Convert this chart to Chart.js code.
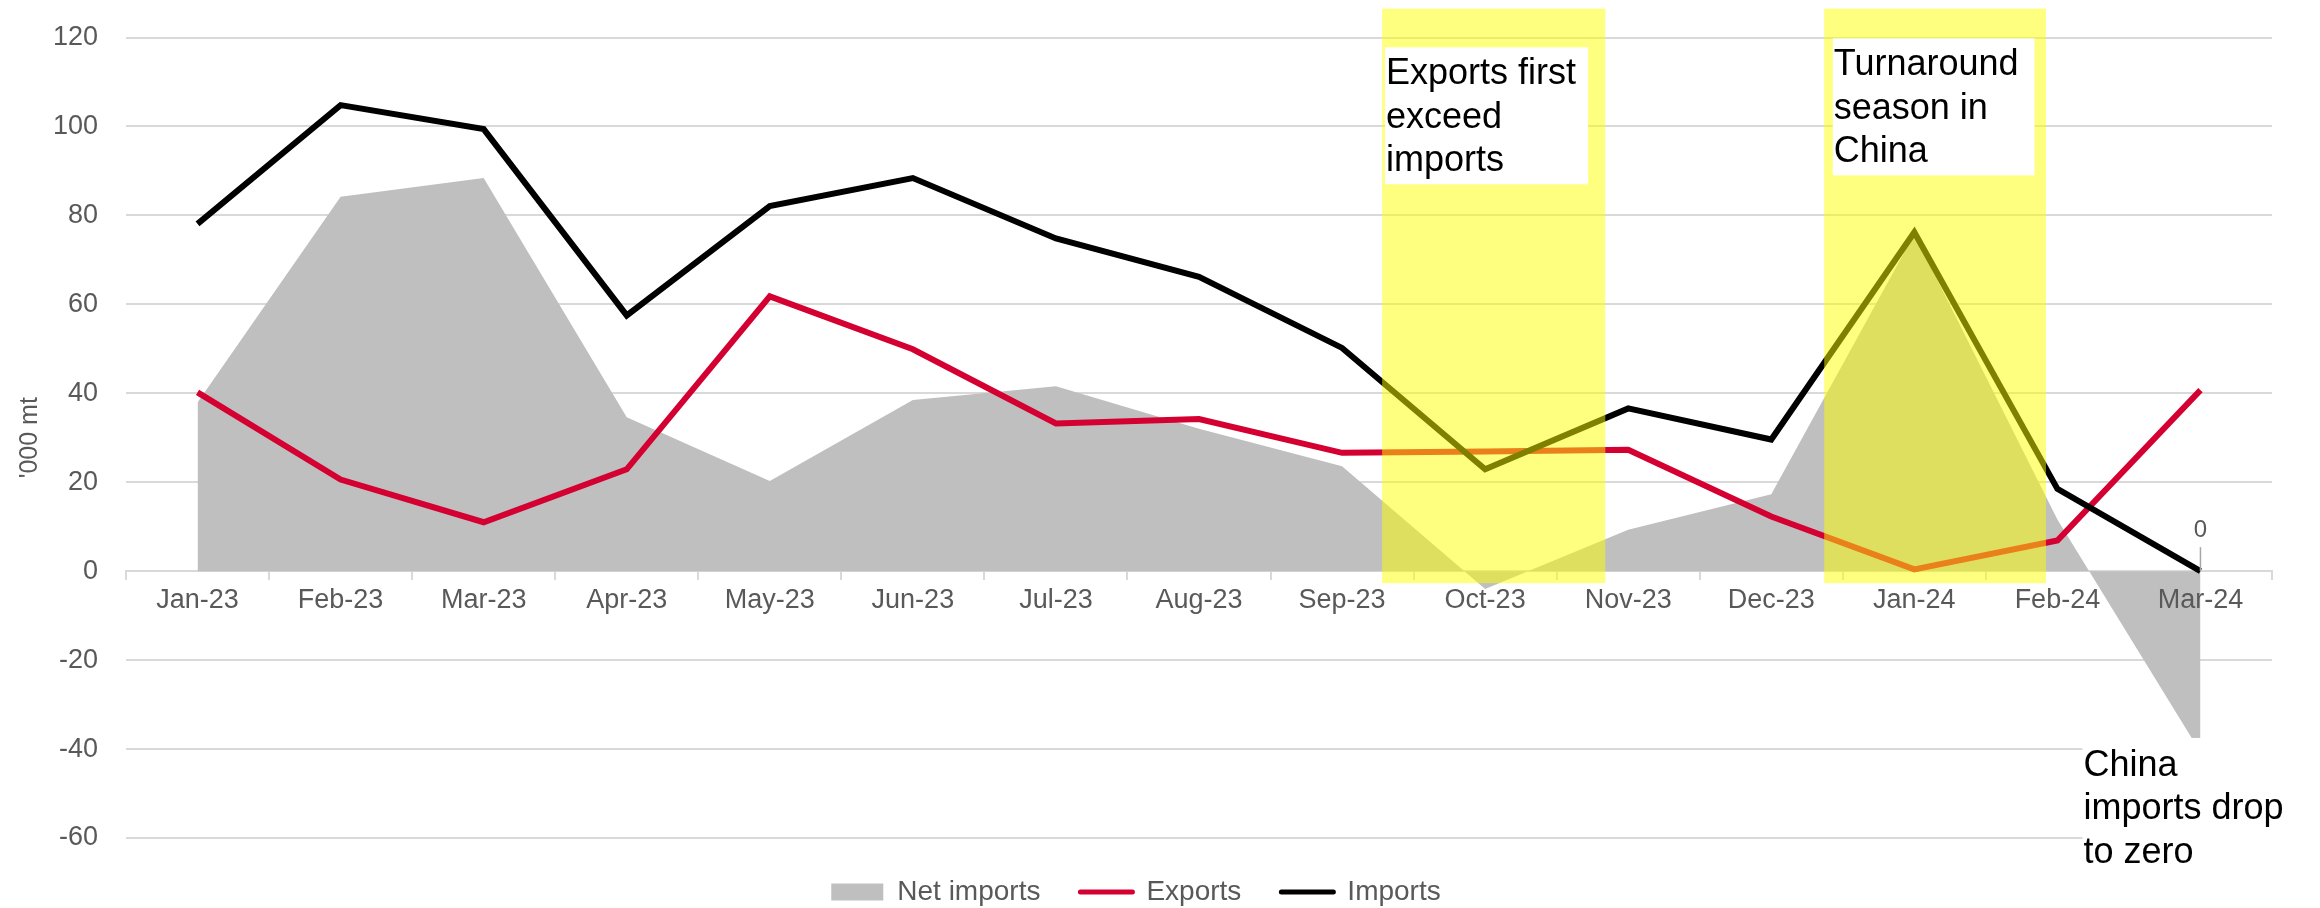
<!DOCTYPE html>
<html>
<head>
<meta charset="utf-8">
<script src="https://cdn.jsdelivr.net/npm/chart.js@4"></script>
<style>
  html, body { margin: 0; padding: 0; background: #fff; }
  #wrap { width: 2320px; height: 908px; position: relative; }
</style>
</head>
<body>
<div id="wrap"><canvas id="chart-area"></canvas></div>
<script>
var months = ['Jan-23', 'Feb-23', 'Mar-23', 'Apr-23', 'May-23', 'Jun-23', 'Jul-23', 'Aug-23',
  'Sep-23', 'Oct-23', 'Nov-23', 'Dec-23', 'Jan-24', 'Feb-24', 'Mar-24'];
var netImports = [37.9, 84.2, 88.4, 34.6, 20.3, 38.5, 41.6, 32.0, 23.6, -4.0, 9.3, 17.3, 75.8, 11.6, -40.7];
var exportsData = [40.2, 20.6, 11.0, 22.9, 61.8, 49.9, 33.2, 34.2, 26.6, 26.9, 27.3, 12.3, 0.4, 6.9, 40.7];
var importsData = [78.1, 104.8, 99.4, 57.5, 82.1, 88.4, 74.8, 66.2, 50.2, 22.9, 36.6, 29.6, 76.2, 18.5, 0];
var yTicks = [120, 100, 80, 60, 40, 20, 0, -20, -40, -60];

// highlighted periods: [from index, to index] and their notes
var highlights = [
  { from: 8.28, to: 9.84, box: [8.30, 9.72, 117.8, 87.0], lines: ['Exports first', 'exceed', 'imports'] },
  { from: 11.37, to: 12.92, box: [11.43, 12.84, 119.8, 89.0], lines: ['Turnaround', 'season in', 'China'] }
];
var bottomNote = ['China', 'imports drop', 'to zero'];

var grey = '#595959';
var fam = '"Liberation Sans", Arial, sans-serif';
var noteFont = '36px ' + fam;

var notesPlugin = {
  id: 'notes',
  afterDatasetsDraw: function(chart) {
    var ctx = chart.ctx, x = chart.scales.x, y = chart.scales.y;
    ctx.save();
    // data label on last imports point
    var px = x.getPixelForValue(14), py = y.getPixelForValue(importsData[14]);
    ctx.strokeStyle = '#a6a6a6';
    ctx.lineWidth = 1.5;
    ctx.beginPath();
    ctx.moveTo(px, py - 24);
    ctx.lineTo(px, py);
    ctx.stroke();
    ctx.fillStyle = grey;
    ctx.font = '24px ' + fam;
    ctx.textAlign = 'center';
    ctx.textBaseline = 'middle';
    ctx.fillText(String(importsData[14]), px, py - 41);

    highlights.forEach(function(h) {
      var l = x.getPixelForValue(h.from), r = x.getPixelForValue(h.to);
      var t = y.getPixelForValue(126.5), b = y.getPixelForValue(-2.7);
      ctx.fillStyle = 'rgba(255,255,0,0.5)';
      ctx.fillRect(l, t, r - l, b - t);
      var bl = x.getPixelForValue(h.box[0]), br = x.getPixelForValue(h.box[1]);
      var bt = y.getPixelForValue(h.box[2]), bb = y.getPixelForValue(h.box[3]);
      ctx.fillStyle = '#ffffff';
      ctx.fillRect(bl, bt, br - bl, bb - bt);
      ctx.fillStyle = '#000000';
      ctx.font = noteFont;
      ctx.textAlign = 'left';
      ctx.textBaseline = 'alphabetic';
      h.lines.forEach(function(s, i) {
        ctx.fillText(s, bl + 1, bt + 37 + i * 43.5);
      });
    });

    // note under the chart on the right
    var nl = x.getPixelForValue(13.175);
    var nt = y.getPixelForValue(-37.5);
    var nb = y.getPixelForValue(-68.5);
    ctx.fillStyle = '#ffffff';
    ctx.fillRect(nl, nt, chart.width - nl, nb - nt);
    ctx.fillStyle = '#000000';
    ctx.font = noteFont;
    ctx.textAlign = 'left';
    ctx.textBaseline = 'alphabetic';
    bottomNote.forEach(function(s, i) {
      ctx.fillText(s, nl + 1, nt + 38 + i * 43.5);
    });
    ctx.restore();
  }
};

var config = {
  type: 'line',
  data: {
    labels: months,
    datasets: [{
      label: 'Net imports',
      data: netImports,
      fill: 'origin',
      backgroundColor: '#bfbfbf',
      borderWidth: 0,
      pointRadius: 0,
      order: 3
    }, {
      label: 'Exports',
      data: exportsData,
      borderColor: '#d50032',
      backgroundColor: '#d50032',
      borderWidth: 6,
      pointRadius: 0,
      fill: false,
      order: 2
    }, {
      label: 'Imports',
      data: importsData,
      borderColor: '#000000',
      backgroundColor: '#000000',
      borderWidth: 6,
      pointRadius: 0,
      fill: false,
      order: 1
    }]
  },
  options: {
    responsive: false,
    animation: false,
    layout: { padding: { top: 37.5, right: 48, left: 0, bottom: 0 } },
    plugins: {
      tooltip: { enabled: false },
      legend: {
        position: 'bottom',
        maxHeight: 70,
        labels: {
          usePointStyle: true,
          pointStyleWidth: 52,
          padding: 40,
          color: grey,
          font: { family: fam, size: 28 },
          generateLabels: function(chart) {
            return chart.data.datasets.map(function(ds, i) {
              var c = i === 0 ? ds.backgroundColor : ds.borderColor;
              return {
                text: ds.label,
                pointStyle: 'line',
                strokeStyle: c,
                fillStyle: c,
                lineWidth: i === 0 ? 17 : 5,
                lineCap: i === 0 ? 'butt' : 'round',
                fontColor: grey,
                datasetIndex: i
              };
            });
          }
        }
      }
    },
    scales: {
      x: {
        position: { y: 0 },
        offset: true,
        grid: {
          offset: true,
          drawOnChartArea: false,
          drawTicks: true,
          tickLength: 8,
          color: '#d9d9d9',
          lineWidth: 2
        },
        border: { display: true, color: '#d9d9d9', width: 2 },
        ticks: {
          z: 1,
          color: grey,
          padding: 5,
          maxRotation: 0,
          autoSkip: false,
          font: { family: fam, size: 27 }
        }
      },
      y: {
        min: -60,
        max: 120,
        afterFit: function(scale) {
          scale.width = 126;
          scale.paddingTop = 0;
          scale.paddingBottom = 0;
        },
        afterBuildTicks: function(scale) {
          scale.ticks = yTicks.map(function(v) { return { value: v }; });
        },
        grid: { color: '#d9d9d9', lineWidth: 2, drawTicks: false },
        border: { display: false },
        ticks: {
          color: grey,
          padding: 28,
          font: { family: fam, size: 27 }
        },
        title: {
          display: true,
          text: "'000 mt",
          color: grey,
          padding: { top: 15, bottom: 0 },
          font: { family: fam, size: 25 }
        }
      }
    }
  },
  plugins: [notesPlugin]
};

window.onload = function() {
  var canvas = document.getElementById('chart-area');
  canvas.width = 2320;
  canvas.height = 908;
  var ctx = canvas.getContext('2d');
  window.myChart = new Chart(ctx, config);
};
</script>
</body>
</html>
